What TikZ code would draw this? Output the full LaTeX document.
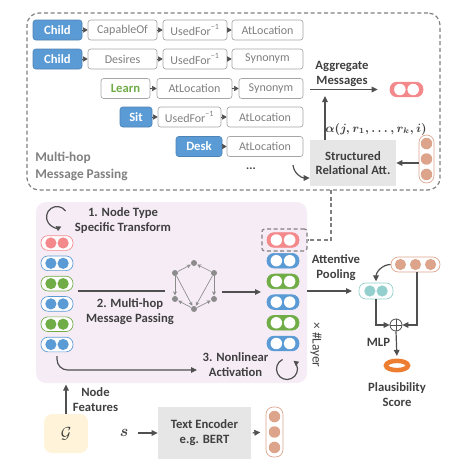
\documentclass[tikz,border=0pt]{standalone}
\usepackage[no-math]{fontspec}
\setmainfont{Carlito}
\usetikzlibrary{arrows.meta,calc,shapes.geometric}
\definecolor{cblue}{HTML}{5B9BD5}
\definecolor{cgreen}{HTML}{70AD47}
\definecolor{cpink}{HTML}{F4898B}
\definecolor{cteal}{HTML}{93CFCC}
\definecolor{ctan}{HTML}{DCA48B}
\definecolor{corange}{HTML}{ED7D31}
\definecolor{cpanel}{HTML}{F6ECF6}
\definecolor{cgbox}{HTML}{E6E6E6}
\definecolor{cyel}{HTML}{FFF4D9}
\definecolor{cdark}{HTML}{404040}
\definecolor{cmid}{HTML}{808080}
\definecolor{cline}{HTML}{A6A6A6}
\definecolor{carrow}{HTML}{505050}
\definecolor{cgraph}{HTML}{8C8C8C}
\tikzset{
  lbl/.style={font=\bfseries\fontsize{9.5}{11.3}\selectfont, text=cdark, align=center, inner sep=0pt},
  rel/.style={draw=cline, fill=white, rounded corners=2pt, minimum height=15pt, inner sep=0pt, font=\fontsize{9}{10}\selectfont, text=cmid, line width=0.5pt},
  ent/.style={fill=cblue, draw=cblue!85!black, rounded corners=2pt, minimum height=15pt, inner sep=0pt, font=\bfseries\fontsize{9.5}{10}\selectfont, text=white, line width=0.4pt},
  tri/.style={-{Triangle[length=3.5pt,width=4pt]}, draw=carrow, line width=0.4pt},
  arr/.style={-{Triangle[length=4.5pt,width=4.2pt]}, draw=carrow, line width=0.9pt},
  pill/.style={rounded corners=5.2pt, inner sep=0pt, minimum width=24pt, minimum height=11pt},
  vF/.style={pill, draw=#1, line width=0.5pt, fill=white, path picture={\fill[#1] ([xshift=-4.6pt]path picture bounding box.center) circle (4.2pt) ([xshift=4.6pt]path picture bounding box.center) circle (4.2pt);}},
  vH/.style={pill, fill=#1, draw=#1, line width=0.5pt, path picture={\fill[white] ([xshift=-5pt]path picture bounding box.center) circle (4.3pt) ([xshift=5pt]path picture bounding box.center) circle (4.3pt);}},
  v3V/.style={rounded corners=5.5pt, inner sep=0pt, draw=ctan, fill=white, line width=0.5pt, path picture={\foreach \dy in {-11.6,0,11.6} \fill[ctan] ([yshift=\dy pt]path picture bounding box.center) circle (4.3pt);}},
  v3H/.style={rounded corners=5.5pt, inner sep=0pt, draw=ctan, fill=white, line width=0.5pt, minimum width=36.75pt, minimum height=11.25pt, path picture={\foreach \dx in {-11.3,0,11.3} \fill[ctan] ([xshift=\dx pt]path picture bounding box.center) circle (4.2pt);}},
  gn/.style={circle, fill=cgraph, inner sep=0pt, minimum size=4.5pt},
  gedge/.style={-{Stealth[length=3pt,width=3pt]}, draw=cgraph, line width=0.5pt, shorten >=0.3pt},
  dsh/.style={draw=cmid, line width=0.9pt, dash pattern=on 3pt off 2pt},
}
\begin{document}
\begin{tikzpicture}[x=0.75pt,y=-0.75pt]
\useasboundingbox (0,0) rectangle (463,471);

% ---------- top dashed box ----------
\node[dsh, rounded corners=9pt, minimum width=309.75pt, minimum height=132.75pt, inner sep=0pt] (topbox) at (233.5,101.5) {};

% row 1
\node[ent, minimum width=36.75pt] (a1) at (57.5,30) {Child};
\node[rel, minimum width=51.75pt] (a2) at (122.5,30) {CapableOf};
\node[rel, minimum width=48pt] (a3) at (195,30) {UsedFor\textsuperscript{−1}};
\node[rel, minimum width=53.25pt] (a4) at (267.5,30) {AtLocation};
% row 2
\node[ent, minimum width=36.75pt] (b1) at (57.5,59) {Child};
\node[rel, minimum width=51.75pt] (b2) at (122.5,59) {Desires};
\node[rel, minimum width=48pt] (b3) at (195,59) {UsedFor\textsuperscript{−1}};
\node[rel, minimum width=53.25pt] (b4) at (267.5,59) {Synonym};
% row 3
\node[rel, minimum width=36.75pt, text=cgreen, font=\bfseries\fontsize{9.5}{10}\selectfont] (c1) at (125.5,88.5) {Learn};
\node[rel, minimum width=56.25pt] (c2) at (194.5,88.5) {AtLocation};
\node[rel, minimum width=48pt] (c3) at (271,88.5) {Synonym};
% row 4
\node[ent, minimum width=24pt] (d1) at (136,117) {Sit};
\node[rel, minimum width=47.25pt] (d2) at (189.5,117) {UsedFor\textsuperscript{−1}};
\node[rel, minimum width=57pt] (d3) at (265,117) {AtLocation};
% row 5
\node[ent, minimum width=34.5pt] (e1) at (199,146.5) {Desk};
\node[rel, minimum width=57pt] (e2) at (265,146.5) {AtLocation};

\foreach \p/\q in {a1/a2,a2/a3,a3/a4,b1/b2,b2/b3,b3/b4,c1/c2,c2/c3,d1/d2,d2/d3,e1/e2}
  \draw[tri] (\p.east) -- (\q.west);

\node[font=\bfseries\fontsize{9}{10}\selectfont, text=cdark] (dots) at (251,169) {...};

\node[lbl, text=cmid, align=left, anchor=west, font=\bfseries\fontsize{10}{12.5}\selectfont] (mhp) at (35,166.5) {Multi-hop\\Message Passing};

% structured attention
\node[fill=cgbox, minimum width=64.5pt, minimum height=34.5pt, inner sep=0pt, align=center, text=cdark, font=\bfseries\fontsize{9.5}{10.5}\selectfont] (sra) at (353,163) {Structured\\Relational Att.};
\coordinate (cs) at (293,165);
\draw[arr] (cs) to[out=-85,in=180] ([yshift=-11.25pt]sra.west);

\node[v3V, minimum width=11.25pt, minimum height=36pt] (tv1) at (426.5,159) {};
\draw[arr] (tv1.west |- sra.east) -- (sra.east);

\node[text=cdark, inner sep=0pt, font=\fontsize{9}{11}\selectfont\mathversion{bold}] (alpha) at (376,129) {$\alpha(j, r_1, \ldots, r_k, i)$};

\coordinate (upend) at (325,96);
\draw[arr] (sra.north -| upend) -- (upend);

\node[lbl] (agg) at (342,73.5) {Aggregate\\Messages};
\node[vH=cpink, minimum width=24.75pt] (pagg) at (406.5,89.5) {};
\coordinate (aggs) at (310,89.5);
\draw[arr] (aggs) -- (pagg.west) [shorten >=9pt];

% ---------- middle panel ----------
\node[fill=cpanel, rounded corners=7.5pt, minimum width=203.25pt, minimum height=135.75pt, inner sep=0pt] (panel) at (171.5,292.5) {};

% loop 1
\draw[carrow, line width=0.9pt, -{Triangle[length=3.8pt,width=3.8pt]}] (57,217) ++(-35:10.5) arc[start angle=-35, end angle=-295, radius=10.5];
\node[lbl] (t1) at (123,220.5) {1. Node Type\\Specific Transform};

% left stack
\node[vF=cpink] (l1) at (57,243) {};
\node[vF=cblue] (l2) at (57,263.3) {};
\node[vF=cgreen] (l3) at (57,283.6) {};
\node[vF=cblue] (l4) at (57,303.9) {};
\node[vF=cgreen] (l5) at (57,324.2) {};
\node[vF=cblue] (l6) at (57,344.5) {};

% right stack
\node[vH=cpink] (r1) at (283,240) {};
\node[vH=cblue] (r2) at (283,260.7) {};
\node[vH=cgreen] (r3) at (283,281.4) {};
\node[vH=cblue] (r4) at (283,302.1) {};
\node[vH=cgreen] (r5) at (283,322.8) {};
\node[vH=cblue] (r6) at (283,343.5) {};
\node[dsh, rounded corners=2pt, minimum width=33.75pt, minimum height=16.5pt, inner sep=0pt] (dbox) at (284.5,240) {};

% dashed connector
\coordinate (tbc) at (331,190);
\draw[dsh] (tbc) |- (dbox.east);

% graph
\node[gn] (gt) at (194,263) {};
\node[gn] (gul) at (175,273) {};
\node[gn] (gur) at (214,273) {};
\node[gn] (gll) at (175,299) {};
\node[gn] (glr) at (214,299) {};
\node[gn] (gb) at (194,309) {};
\foreach \p/\q in {gul/gt,gur/gt,gul/gll,gur/glr,gul/gb,gur/gb,gb/gll,gb/glr}
  \draw[gedge] (\p) -- (\q);

\coordinate (mp1) at (78,291);
\coordinate (mp2) at (165,291);
\draw[carrow, line width=0.9pt] (mp1) -- (mp2);
\coordinate (mp3) at (222,292);
\coordinate (mp4) at (261,292);
\draw[arr] (mp3) -- (mp4);
\node[lbl] (t2) at (130,311.5) {2. Multi-hop\\Message Passing};

\coordinate (na) at (57,356);
\coordinate (nb) at (197,370);
\draw[arr, rounded corners=8pt] (na) |- (nb);
\node[lbl] (t3) at (235.5,365) {3. Nonlinear\\Activation};

\draw[carrow, line width=0.9pt, -{Triangle[length=3.8pt,width=3.8pt]}] (287,369) ++(-115:10.5) arc[start angle=-115, end angle=-412, radius=10.5];

\node[rotate=-90, text=cdark, inner sep=0pt, font=\fontsize{10}{12}\selectfont] (lay) at (316,345) {× \#Layer};

% ---------- right part ----------
\node[lbl] (ap) at (336,267.5) {Attentive\\Pooling};
\node[vF=cteal, minimum width=25.5pt, minimum height=12pt] (teal) at (376,291) {};
\draw[arr] (panel.east |- teal.west) -- (teal.west) [shorten >=5pt];

\node[v3H] (tv2) at (415.5,264.5) {};
\draw[arr] (tv2.west) to[out=180,in=90] ([yshift=1pt]teal.north);

\node[circle, draw=carrow, line width=0.6pt, minimum size=9pt, inner sep=0pt, path picture={\draw[carrow, line width=0.6pt] (path picture bounding box.north) -- (path picture bounding box.south) (path picture bounding box.west) -- (path picture bounding box.east);}] (op) at (396,325) {};
\draw[arr] (tv2.south -| 417,0) |- (op.east);
\draw[arr] (teal.south) |- (op.west);

\node[ellipse, draw=corange, line width=3.4pt, minimum width=16.5pt, minimum height=7pt, inner sep=0pt] (plaus) at (397,365.5) {};
\draw[arr] (op.south) -- (plaus.north) [shorten >=2pt];
\node[lbl] (mlp) at (378.5,342) {MLP};
\node[lbl] (ps) at (397,394.5) {Plausibility\\Score};

% ---------- bottom ----------
\node[fill=cyel, rounded corners=6pt, minimum width=33pt, minimum height=29.25pt, inner sep=0pt, text=cdark, font=\fontsize{13}{14}\selectfont] (G) at (66,433.5) {$\mathcal{G}$};
\draw[arr] (G.north) -- (G.north |- panel.south) [shorten >=1pt];
\node[lbl] (nf) at (95.5,399.5) {Node\\Features};

\node[text=cdark, inner sep=0pt, font=\fontsize{13}{14}\selectfont\mathversion{bold}] (s) at (124,433) {$s$};
\node[fill=cgbox, minimum width=69.75pt, minimum height=39pt, inner sep=0pt, align=center, text=cdark, font=\bfseries\fontsize{9.5}{11.3}\selectfont] (enc) at (204.5,433) {Text Encoder\\e.g. BERT};
\draw[arr] ([xshift=7pt]s.east) -- (enc.west);
\node[v3V, minimum width=12.75pt, minimum height=37.5pt] (tv3) at (274.5,432) {};
\draw[arr] (enc.east) -- (tv3.west) [shorten <=1pt, shorten >=4pt];
\end{tikzpicture}
\end{document}
